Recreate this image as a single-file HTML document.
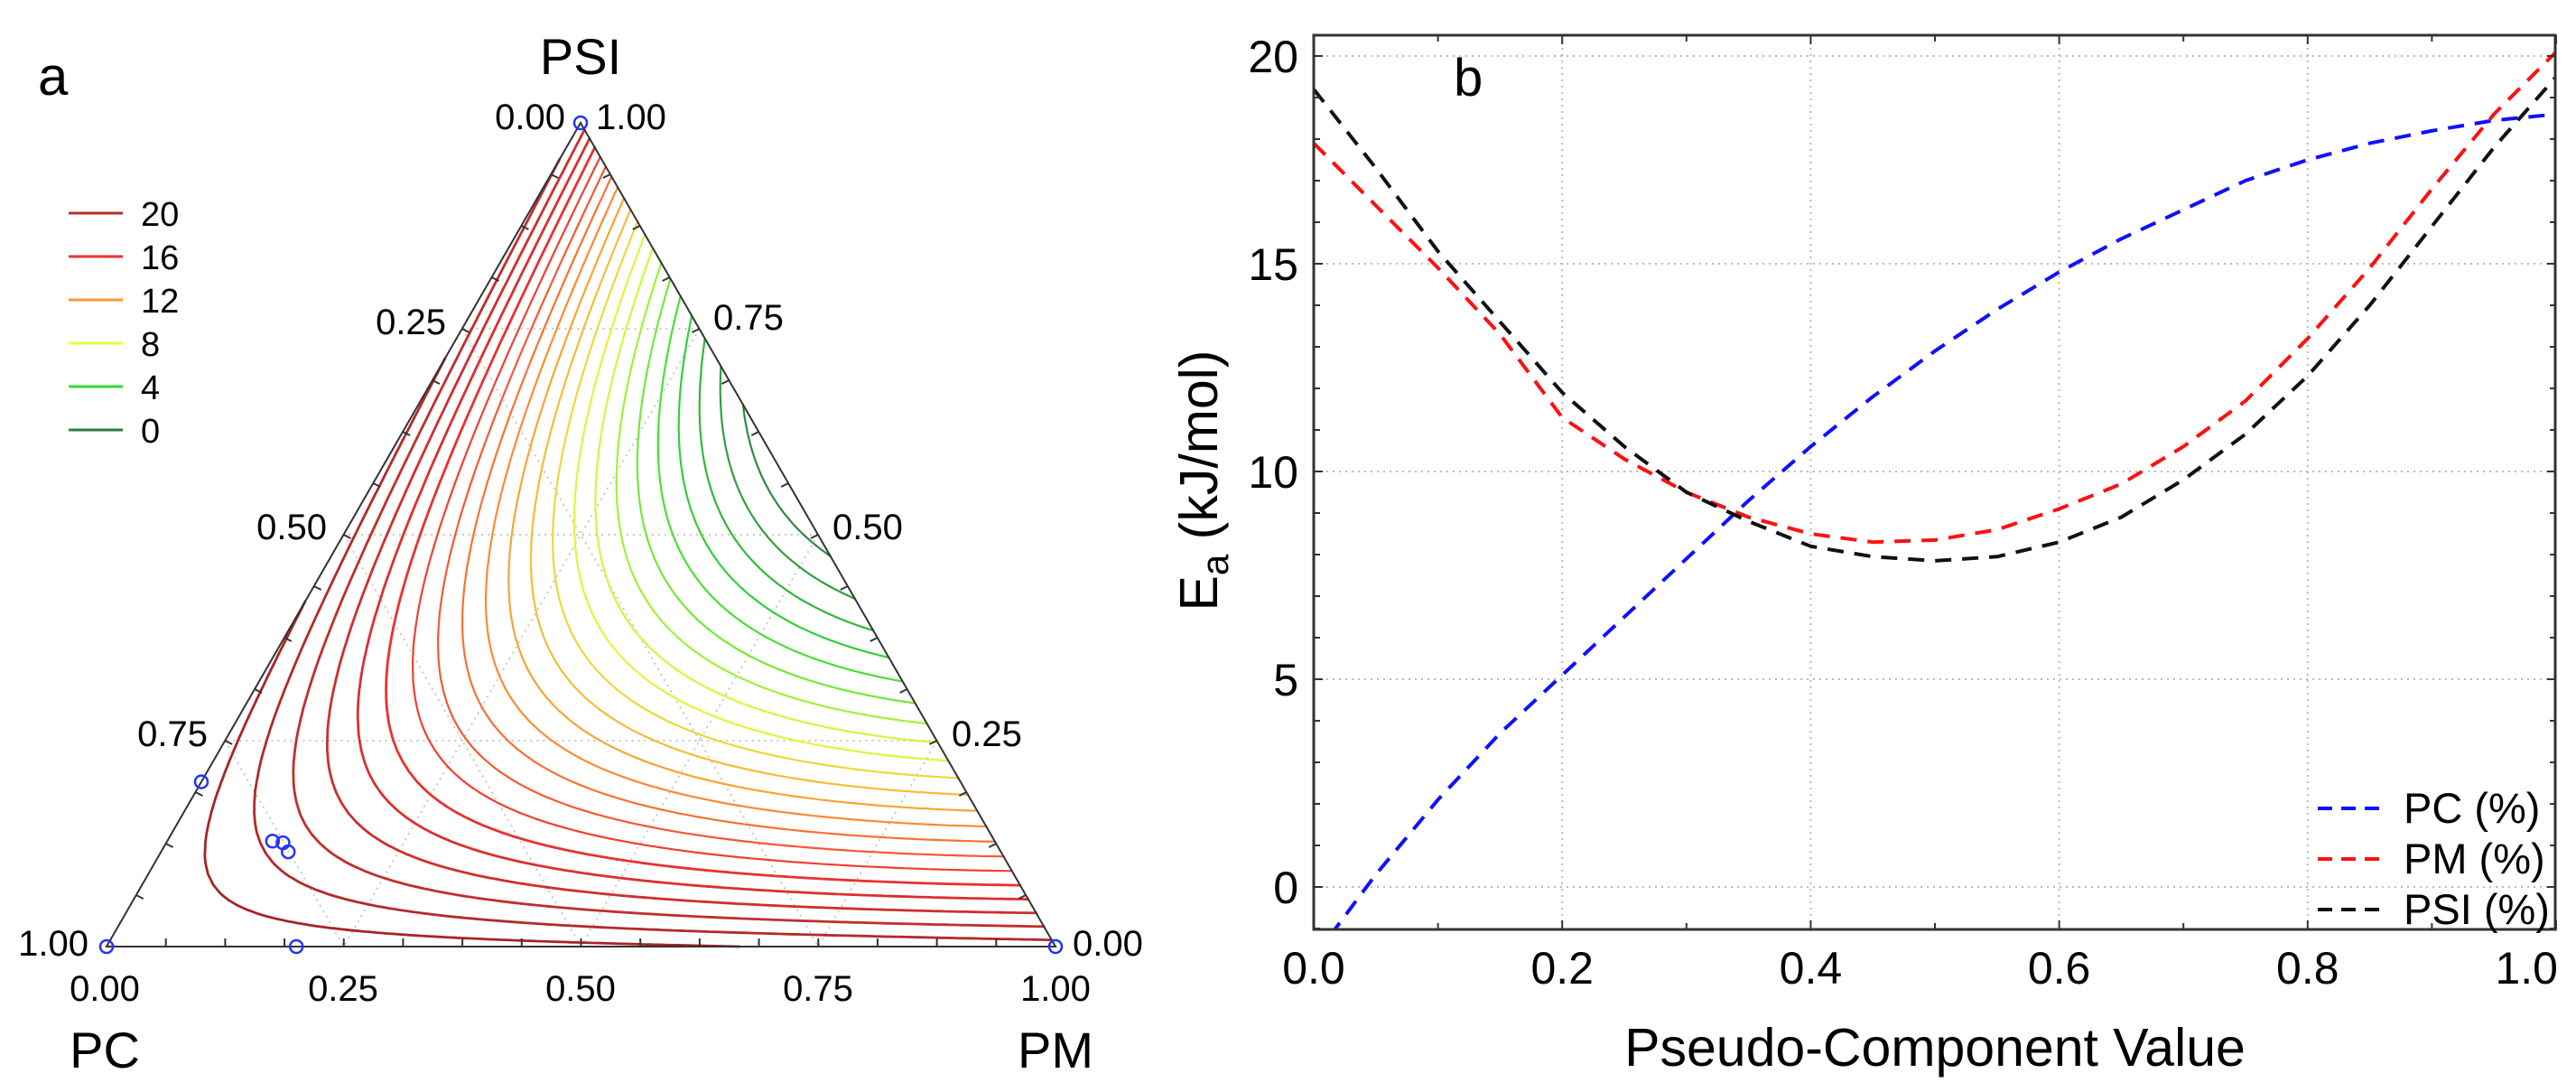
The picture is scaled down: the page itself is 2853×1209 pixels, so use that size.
<!DOCTYPE html>
<html><head><meta charset="utf-8"><style>
html,body{margin:0;padding:0;background:#fff;}
svg{display:block;font-family:"Liberation Sans",Arial,sans-serif;}
</style></head><body>
<svg id="fig" width="2853" height="1209" viewBox="0 0 2853 1209" xmlns="http://www.w3.org/2000/svg">
<rect width="2853" height="1209" fill="#fff"/>
<g id="ternary">
  <g id="tgrid"></g>
  <g id="contours"></g>
  <polygon points="643,136 118,1048 1169,1048" fill="none" stroke="#333" stroke-width="2"/>
  <g id="tticks"></g>
  <g id="tpoints"></g>
  <text x="42" y="105" font-size="60">a</text>
  <text x="643" y="82" font-size="56" text-anchor="middle">PSI</text>
  <text x="116" y="1182" font-size="56" text-anchor="middle">PC</text>
  <text x="1169" y="1182" font-size="56" text-anchor="middle">PM</text>
  <g font-size="40">
    <text x="626" y="143" text-anchor="end">0.00</text>
    <text x="660" y="143">1.00</text>
    <text x="494" y="370" text-anchor="end">0.25</text>
    <text x="362" y="597" text-anchor="end">0.50</text>
    <text x="230" y="826" text-anchor="end">0.75</text>
    <text x="98" y="1058" text-anchor="end">1.00</text>
    <text x="790" y="365">0.75</text>
    <text x="922" y="597">0.50</text>
    <text x="1054" y="826">0.25</text>
    <text x="1188" y="1058">0.00</text>
    <text x="116" y="1108" text-anchor="middle">0.00</text>
    <text x="380" y="1108" text-anchor="middle">0.25</text>
    <text x="643" y="1108" text-anchor="middle">0.50</text>
    <text x="906" y="1108" text-anchor="middle">0.75</text>
    <text x="1169" y="1108" text-anchor="middle">1.00</text>
  </g>
  <g id="clegend" font-size="38"></g>
</g>
<g id="trace">
  <g id="rgrid"></g>
  <g id="rlines"></g>
  <rect x="1455" y="39" width="1375" height="990" fill="none" stroke="#333" stroke-width="3"/>
  <g id="raxes" font-size="50"></g>
  <text x="1610" y="106" font-size="58">b</text>
  <text x="2143" y="1180" font-size="59" text-anchor="middle">Pseudo-Component Value</text>
  <text transform="translate(1348,532) rotate(-90)" font-size="59" text-anchor="middle">E<tspan font-size="42" dy="12">a</tspan><tspan dy="-12"> (kJ/mol)</tspan></text>
  <g id="rlegend" font-size="47"></g>
</g>
</svg>
<script>
// ---------- Trace plot data ----------
const xVals = [0,0.05,0.1,0.15,0.2,0.25,0.3,0.35,0.4,0.45,0.5,0.55,0.6,0.65,0.7,0.75,0.8,0.85,0.9,0.95,1.0];
const pcVals = [-1.7,0.3,2.1,3.7,5.1,6.5,7.9,9.3,10.6,11.8,12.9,13.9,14.8,15.6,16.3,17.0,17.5,17.9,18.2,18.45,18.6];
const pmVals = [17.9,16.4,14.9,13.3,11.3,10.3,9.5,8.9,8.5,8.3,8.35,8.6,9.1,9.7,10.6,11.7,13.2,14.9,16.8,18.6,20.1];
const psiVals = [19.2,17.3,15.3,13.6,11.9,10.6,9.5,8.8,8.2,7.95,7.85,7.95,8.3,8.9,9.8,10.9,12.3,14.0,15.9,17.8,19.5];
const xTicks = ["0.0","0.2","0.4","0.6","0.8","1.0"];
const yTicks = ["0","5","10","15","20"];
const seriesNames = ["PC (%)","PM (%)","PSI (%)"];
// ---------- Ternary model (Scheffé full cubic) ----------
const vertexCoef = [22.5, 21.0, 19.3];      // PC, PM, PSI
const binaryCoef = [0, 1.4, -80];           // PC*PM, PC*PSI, PM*PSI
const cubicCoef = [-60];                    // PC*PM*PSI
const edgeCubic = [19.4];                   // PM*PSI*(PM-PSI)
const contourLevels = [0.5,1.5,2.5,3.5,4.5,5.5,6.5,7.5,8.5,9.5,10.5,11.5,12.5,13.5,14.5,15.5,16.5,17.5,18.5,19.5,20.5,21.5,22.5];
const legendLevels = ["20","16","12","8","4","0"];
const designPC = [0,1,0,0.8,0.8,0.761,0.751,0.751];
const designPM = [0,0,1,0,0.2,0.111,0.123,0.134];

const NS="http://www.w3.org/2000/svg";
function mk(tag, attrs, parent){const e=document.createElementNS(NS,tag);for(const k in attrs)e.setAttribute(k,attrs[k]);parent.appendChild(e);return e;}

const X0=1455,X1=2831,YB=982,PXU=46;
const sx=v=>X0+(X1-X0)*v;
const sy=v=>YB-v*PXU;
const rgrid=document.getElementById('rgrid'), raxes=document.getElementById('raxes');
xTicks.forEach((t,i)=>{
  const v=parseFloat(t);
  const x=sx(v);
  if(v>0&&v<1){
    const g=mk('line',{x1:x,x2:x,y1:39,y2:1029,stroke:'#bbb','stroke-width':2,'stroke-dasharray':'2 5'},rgrid);
    
    
  }
  const last=(i==xTicks.length-1);
  const l=mk('text',{x:last?2833:x,y:1089,'text-anchor':last?'end':'middle'},raxes);
  l.textContent=t;
  
  
});
for(let k=0;k<=10;k++){
  const x=sx(k/10);const len=k%2==0?10:7;
  mk('line',{x1:x,x2:x,y1:1029,y2:1029-len,stroke:'#333','stroke-width':2},raxes);
  mk('line',{x1:x,x2:x,y1:39,y2:39+len,stroke:'#333','stroke-width':2},raxes);
}
yTicks.forEach(t=>{
  const y=sy(parseFloat(t));
  const g=mk('line',{x1:X0,x2:X1,y1:y,y2:y,stroke:'#bbb','stroke-width':2,'stroke-dasharray':'2 5'},rgrid);
  
  
  const l=mk('text',{x:1438,y:y+18,'text-anchor':'end'},raxes);
  l.textContent=t;
  
  
});
for(let v=-1;v<=20;v++){
  const y=sy(v);const len=v%5==0?10:7;
  mk('line',{x1:X0,x2:X0+len,y1:y,y2:y,stroke:'#333','stroke-width':2},raxes);
  mk('line',{x1:X1,x2:X1-len,y1:y,y2:y,stroke:'#333','stroke-width':2},raxes);
}
const defs=mk('defs',{},document.getElementById('fig'));
const cp=mk('clipPath',{id:'rclip'},defs);mk('rect',{x:X0,y:39,width:X1-X0,height:990},cp);
const rlines=document.getElementById('rlines');
const colors=['#1010ff','#ff1010','#111'];
[pcVals,pmVals,psiVals].forEach((vals,si)=>{
  let d='';
  vals.forEach((v,i)=>{d+=(i?'L':'M')+sx(xVals[i]).toFixed(1)+','+sy(v).toFixed(1);});
  const p=mk('path',{d:d,fill:'none',stroke:colors[si],'stroke-width':4,'stroke-dasharray':'18 12','clip-path':'url(#rclip)','stroke-linejoin':'round'},rlines);
  
  
});
const rleg=document.getElementById('rlegend');
seriesNames.forEach((n,i)=>{
  const y=895+i*56;
  const ln=mk('line',{x1:2567,x2:2642,y1:y,y2:y,stroke:colors[i],'stroke-width':4,'stroke-dasharray':'16 10'},rleg);
  
  
  const t=mk('text',{x:2662,y:y+16},rleg);t.textContent=n;
  
  
});

// ---------- Ternary ----------
const VPC=[118,1048],VPM=[1169,1048],VPSI=[643,136];
function tp(pc,pm,psi){return [pc*VPC[0]+pm*VPM[0]+psi*VPSI[0], pc*VPC[1]+pm*VPM[1]+psi*VPSI[1]];}
function f(pc,pm,psi){return vertexCoef[0]*pc+vertexCoef[1]*pm+vertexCoef[2]*psi+binaryCoef[0]*pc*pm+binaryCoef[1]*pc*psi+binaryCoef[2]*pm*psi+cubicCoef[0]*pc*pm*psi+edgeCubic[0]*pm*psi*(pm-psi);}
const tgrid=document.getElementById('tgrid'), tticks=document.getElementById('tticks');
[0.25,0.5,0.75].forEach(v=>{
  const segs=[[tp(v,0,1-v),tp(v,1-v,0)],[tp(0,v,1-v),tp(1-v,v,0)],[tp(0,1-v,v),tp(1-v,0,v)]];
  segs.forEach(s=>{
    const g=mk('line',{x1:s[0][0],y1:s[0][1],x2:s[1][0],y2:s[1][1],stroke:'#c8c8c8','stroke-width':2,'stroke-dasharray':'2 5'},tgrid);
    
    
  });
});
for(let k=1;k<16;k++){
  const v=k/16;
  [[tp(1-v,v,0),[0,-9]],[tp(v,0,1-v),[8,4]],[tp(0,1-v,v),[-8,4]]].forEach(a=>{
    mk('line',{x1:a[0][0],y1:a[0][1],x2:a[0][0]+a[1][0],y2:a[0][1]+a[1][1],stroke:'#333','stroke-width':2},tticks);
  });
}
const cstops=[[0,[46,125,70]],[4,[51,220,51]],[8,[225,255,60]],[12,[255,150,50]],[16,[240,50,50]],[20,[185,45,45]],[24,[140,20,20]]];
function ccol(v){for(let i=0;i<cstops.length-1;i++){const a=cstops[i],b=cstops[i+1];if(v<=b[0]){const t=Math.max(0,(v-a[0])/(b[0]-a[0]));return 'rgb('+a[1].map((c,j)=>Math.round(c+(b[1][j]-c)*t)).join(',')+')';}}return 'rgb(140,20,20)';}
const N=80;
const node=(i,j)=>{const pm=i/N,psi=j/N,pc=Math.max(0,1-pm-psi);return {p:tp(pc,pm,psi),v:f(pc,pm,psi)};};
const tris=[];
for(let j=0;j<N;j++)for(let i=0;i<N-j;i++){
  tris.push([node(i,j),node(i+1,j),node(i,j+1)]);
  if(i+j+2<=N)tris.push([node(i+1,j),node(i+1,j+1),node(i,j+1)]);
}
const cg=document.getElementById('contours');
contourLevels.forEach(L=>{
  let d='';
  tris.forEach(t=>{
    const pts=[];
    for(let k=0;k<3;k++){const a=t[k],b=t[(k+1)%3];
      if((a.v-L)*(b.v-L)<0){const s=(L-a.v)/(b.v-a.v);pts.push([a.p[0]+(b.p[0]-a.p[0])*s,a.p[1]+(b.p[1]-a.p[1])*s]);}}
    if(pts.length==2)d+='M'+pts[0][0].toFixed(1)+','+pts[0][1].toFixed(1)+'L'+pts[1][0].toFixed(1)+','+pts[1][1].toFixed(1);
  });
  if(d){const p=mk('path',{d:d,fill:'none',stroke:ccol(L),'stroke-width':L>16?2.8:2.2,'stroke-linecap':'round'},cg);
    
    }
});
const tpts=document.getElementById('tpoints');
designPC.forEach((pc,i)=>{const pm=designPM[i];const q=tp(pc,pm,1-pc-pm);
  const c=mk('circle',{cx:q[0],cy:q[1],r:7,fill:'none',stroke:'#2233ff','stroke-width':2.5},tpts);
  
  });
const cl=document.getElementById('clegend');
legendLevels.forEach((t,i)=>{const y=236+i*48;
  const ln=mk('line',{x1:76,x2:136,y1:y,y2:y,stroke:ccol(parseFloat(t)),'stroke-width':3},cl);
  
  
  const tx=mk('text',{x:156,y:y+14},cl);tx.textContent=t;
  
  });
</script>
</body></html>
